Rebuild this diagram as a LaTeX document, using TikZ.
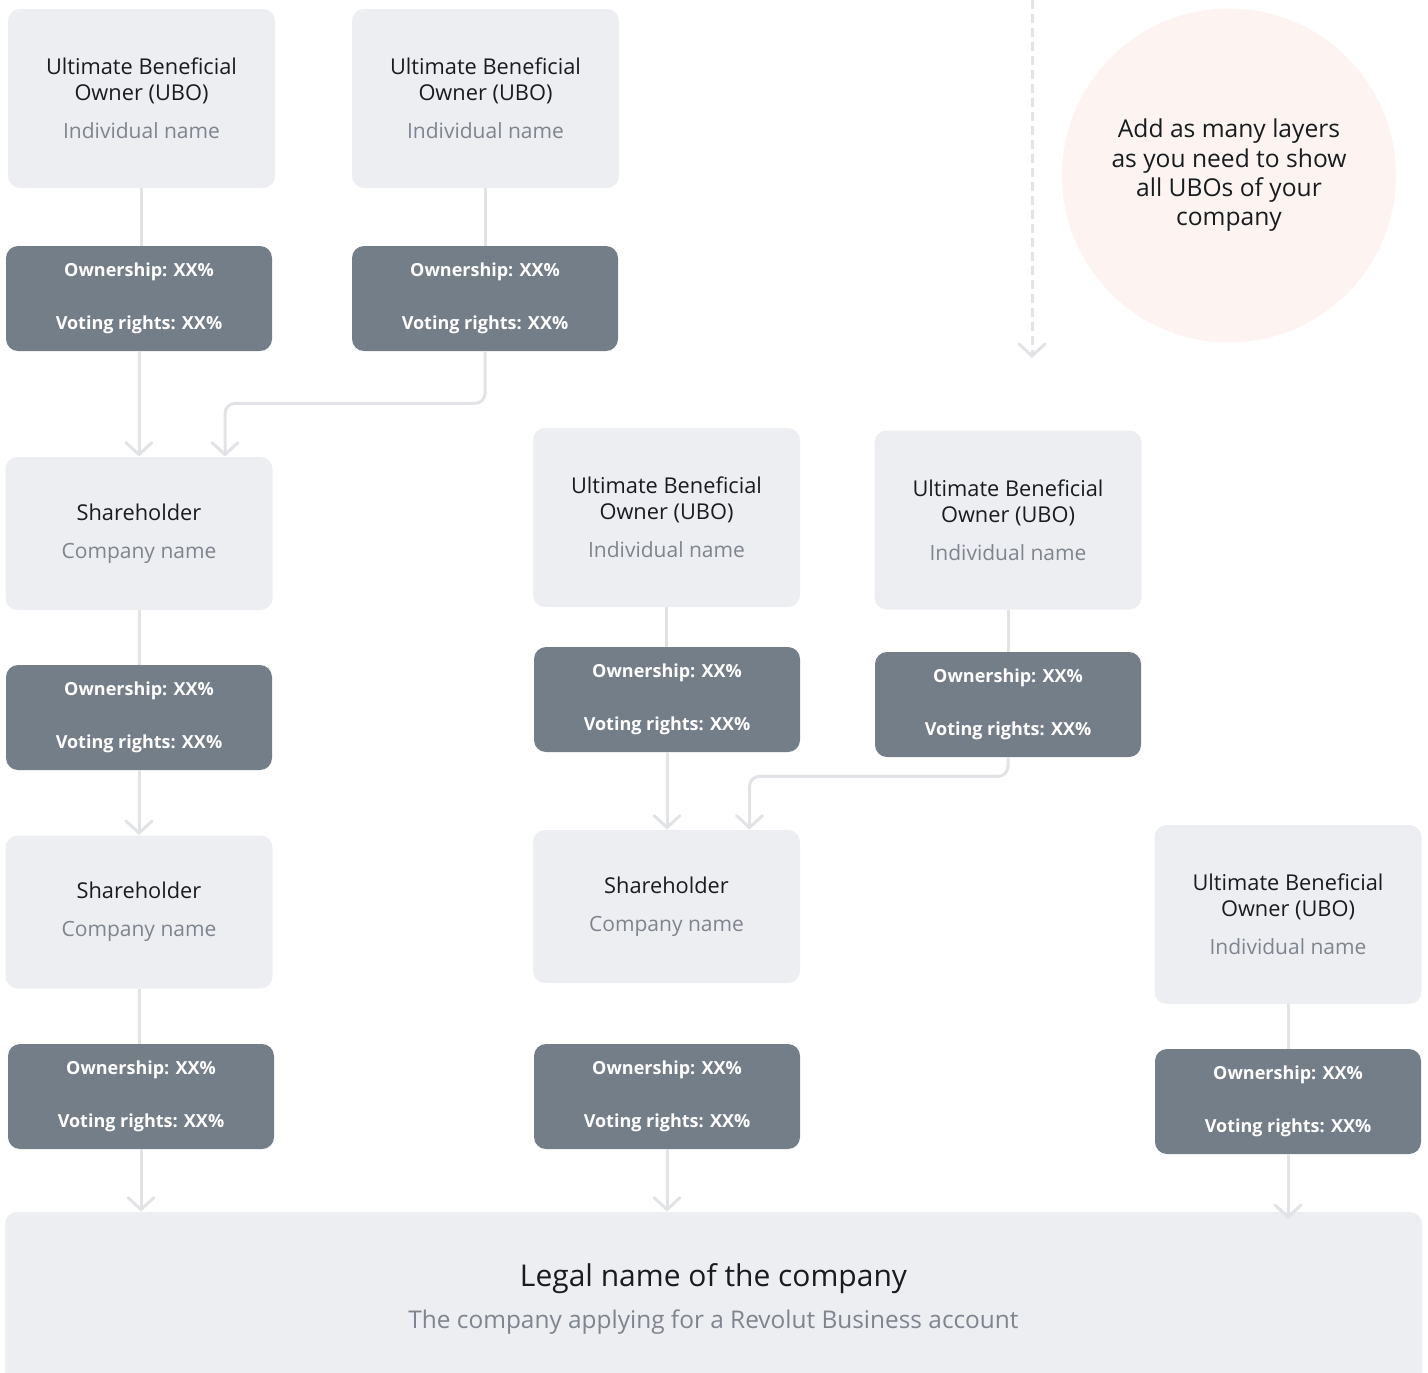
\documentclass[tikz,border=0pt]{standalone}
\usepackage{fontspec}
\setmainfont{Open Sans}
\usetikzlibrary{arrows.meta}
\definecolor{boxgrey}{HTML}{EDEEF2}
\definecolor{darkgrey}{HTML}{747E89}
\definecolor{linegrey}{HTML}{E1E3E7}
\definecolor{subgrey}{HTML}{7E858E}
\definecolor{inkblack}{HTML}{191C1F}
\definecolor{notepink}{HTML}{FDF4F2}
\tikzset{
        x=0.5pt, y=-0.5pt, % one unit is one pixel of the layout, y runs down
        card/.style={rectangle, rounded corners=6pt, fill=boxgrey, inner sep=0pt,
            minimum width=133.5pt, align=center, text=inkblack,
            font=\fontsize{10.9}{13}\selectfont}, % light boxes
        ubo/.style={card, minimum height=89.5pt}, % owner boxes
        holder/.style={card, minimum height=76.5pt}, % shareholder boxes
        share/.style={rectangle, rounded corners=6pt, fill=darkgrey, inner sep=0pt,
            minimum width=133pt, minimum height=52.5pt, align=center, text=white,
            font=\bfseries\fontsize{9}{11}\selectfont}, % ownership boxes
        link/.style={draw=linegrey, line width=1.5pt}, % plain connector
        flow/.style={link, -{Straight Barb[length=6pt,width=13pt,line cap=round]}}, % connector with head
    }
\newcommand{\subname}[1]{\textcolor{subgrey}{\fontsize{10.5}{13}\selectfont #1}}
\begin{document}
\begin{tikzpicture}
    \useasboundingbox (0,0) rectangle (1428,1372);
    % note and "more layers" hint
    \node[circle, fill=notepink, minimum size=167pt, inner sep=0pt, align=center,
        text=inkblack, font=\fontsize{12.3}{14.7}\selectfont] (note) at (1229,175.5)
        {Add as many layers\\as you need to show\\all UBOs of your\\company};
    \coordinate (more) at (1032,0);
    \coordinate (moreend) at (1032,358);
    % left branch
    \node[ubo] (u1) at (141.5,98.5) {Ultimate Beneficial\\Owner (UBO)\\[6pt]\subname{Individual name}};
    \node[ubo] (u2) at (485.5,98.5) {Ultimate Beneficial\\Owner (UBO)\\[6pt]\subname{Individual name}};
    \node[share] (o1) at (139,298.5) {Ownership: XX\%\\[15.5pt]Voting rights: XX\%};
    \node[share] (o2) at (485,298.5) {Ownership: XX\%\\[15.5pt]Voting rights: XX\%};
    \node[holder] (s1) at (139,533.5) {Shareholder\\[6pt]\subname{Company name}};
    \node[share] (o3) at (139,717.5) {Ownership: XX\%\\[15.5pt]Voting rights: XX\%};
    \node[holder] (s2) at (139,912) {Shareholder\\[6pt]\subname{Company name}};
    \node[share] (o4) at (141,1096.5) {Ownership: XX\%\\[15.5pt]Voting rights: XX\%};
    % middle branch
    \node[ubo] (u3) at (666.5,517.5) {Ultimate Beneficial\\Owner (UBO)\\[6pt]\subname{Individual name}};
    \node[ubo] (u4) at (1008,520) {Ultimate Beneficial\\Owner (UBO)\\[6pt]\subname{Individual name}};
    \node[share] (o5) at (667,699.5) {Ownership: XX\%\\[15.5pt]Voting rights: XX\%};
    \node[share] (o6) at (1008,704.5) {Ownership: XX\%\\[15.5pt]Voting rights: XX\%};
    \node[holder] (s3) at (666.5,906.5) {Shareholder\\[6pt]\subname{Company name}};
    \node[share] (o7) at (667,1096.5) {Ownership: XX\%\\[15.5pt]Voting rights: XX\%};
    % right branch
    \node[ubo] (u5) at (1288,914.5) {Ultimate Beneficial\\Owner (UBO)\\[6pt]\subname{Individual name}};
    \node[share] (o8) at (1288,1101.5) {Ownership: XX\%\\[15.5pt]Voting rights: XX\%};
    \coordinate (o8end) at (1288,1219);
    % applying company
    \node[card, minimum width=708.5pt, minimum height=86.5pt, font=\fontsize{12.2}{13}\selectfont]
        (legal) at (713.5,1298.5)
        {{\fontsize{15}{17}\selectfont Legal name of the company}\\[8pt]\textcolor{subgrey}{The company applying for a Revolut Business account}};
    % connectors
    \draw[flow, dash pattern=on 4.5pt off 2.5pt] (more) -- (moreend);
    \draw[link]
      (u1.south) edge (u1.south |- o1.north)
      (u2.south) edge (u2.south |- o2.north)
      (s1.south) edge (s1.south |- o3.north)
      (s2.south) edge (s2.south |- o4.north)
      (u3.south) edge (u3.south |- o5.north)
      (u4.south) edge (u4.south |- o6.north)
      (u5.south) edge (u5.south |- o8.north)
      (o1.south) edge[flow] (o1.south |- s1.north)
      (o3.south) edge[flow] (o3.south |- s2.north)
      (o5.south) edge[flow] (o5.south |- s3.north)
      (o4.south) edge[flow] (o4.south |- legal.north)
      (o7.south) edge[flow] (o7.south |- legal.north)
      (o8.south) edge[flow] (o8end);
    \draw[flow, rounded corners=5pt] (o2.south) -- ++(0,52) -| ([xshift=43pt]s1.north);
    \draw[flow, rounded corners=5pt] (o6.south) -- ++(0,19) -| ([xshift=41.5pt]s3.north);
\end{tikzpicture}
\end{document}
